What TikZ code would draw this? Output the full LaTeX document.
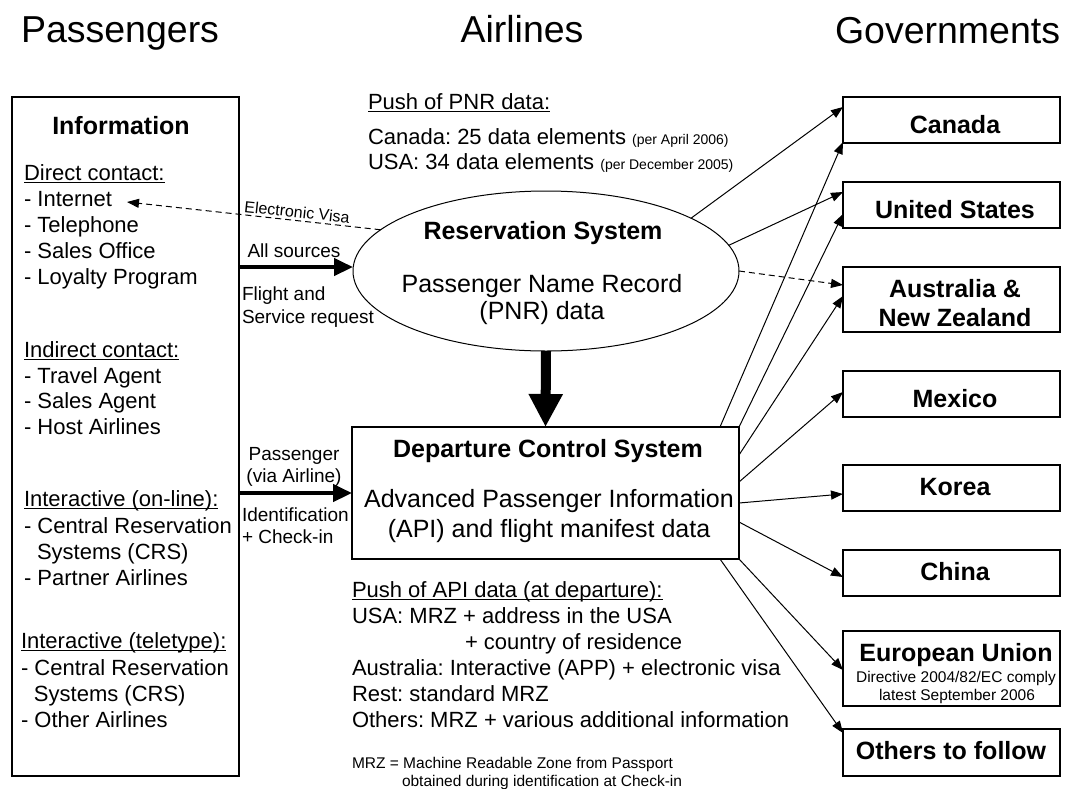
\documentclass[tikz,border=0pt]{standalone}
\usepackage{fontspec}
\setmainfont{Liberation Sans}
\usetikzlibrary{arrows.meta,shapes.geometric,calc}
\newcommand{\myul}[1]{\setbox0\hbox{#1}\rlap{\rule[-2.8pt]{\wd0}{1.3pt}}\box0}
\begin{document}
\frenchspacing
\begin{tikzpicture}[x=1pt,y=-1pt,
  box/.style={draw, line width=1.2pt, inner sep=0pt, outer sep=0pt},
  body/.style={inner sep=0pt, outer sep=0pt, anchor=base west, font=\fontsize{22}{26}\selectfont},
  big/.style={inner sep=0pt, outer sep=0pt, anchor=base, font=\fontsize{25}{29}\selectfont},
  bigb/.style={inner sep=0pt, outer sep=0pt, anchor=base, font=\fontsize{25}{29}\selectfont\bfseries},
  lbl/.style={inner sep=0pt, outer sep=0pt, anchor=base west, font=\fontsize{19}{22}\selectfont},
  lblc/.style={lbl, anchor=base},
  small/.style={inner sep=0pt, outer sep=0pt, anchor=base west, font=\fontsize{15.5}{18}\selectfont},
  smallc/.style={small, anchor=base},
  title/.style={inner sep=0pt, outer sep=0pt, font=\fontsize{37.5}{42}\selectfont},
  thin/.style={line width=1pt, -{Triangle[length=12pt,width=9pt]}},
  dsh/.style={thin, dash pattern=on 6pt off 4pt},
  fat/.style={line width=4.5pt, -{Triangle[length=19pt,width=17pt]}},
]
\useasboundingbox (0,0) rectangle (1077,788);

% titles
\node[title, anchor=base west] (tp) at (21,42) {Passengers};
\node[title, anchor=base] (ta) at (522,42) {Airlines};
\node[title, anchor=base west] (tg) at (835,43) {Governments};

% left information box
\node[box, minimum width=227pt, minimum height=679pt] (info) at (125.5,436.5) {};
\node[bigb] (infot) at (121,134) {Information};
\node[body] (l1) at (24,180) {\myul{Direct contact:}};
\node[body] (internet) at (24,206) {- Internet};
\node[body] (l3) at (24,232) {- Telephone};
\node[body] (l4) at (24,258) {- Sales Office};
\node[body] (l5) at (24,284) {- Loyalty Program};
\node[body] (l6) at (24,357) {\myul{Indirect contact:}};
\node[body] (l7) at (24,383) {- Travel Agent};
\node[body] (l8) at (24,408) {- Sales Agent};
\node[body] (l9) at (24,434) {- Host Airlines};
\node[body] (l10) at (24,506) {\myul{Interactive (on-line):}};
\node[body] (l11) at (24,533) {- Central Reservation};
\node[body] (l12) at (37,559) {Systems (CRS)};
\node[body] (l13) at (24,585) {- Partner Airlines};
\node[body] (l14) at (21,648) {\myul{Interactive (teletype):}};
\node[body] (l15) at (21,675) {- Central Reservation};
\node[body] (l16) at (34,701) {Systems (CRS)};
\node[body] (l17) at (21,727) {- Other Airlines};

% PNR push text
\node[body] (p1) at (368,109) {\myul{Push of PNR data:}};
\node[body] (p2) at (368,144) {Canada: 25 data elements {\fontsize{14}{16}\selectfont (per April 2006)}};
\node[body] (p3) at (368,169) {USA: 34 data elements {\fontsize{14}{16}\selectfont (per December 2005)}};

% reservation system ellipse
\node[draw, ellipse, line width=1pt, minimum width=386pt, minimum height=160pt, inner sep=0pt, outer sep=0pt] (res) at (546,271) {};
\node[bigb] (rest) at (543,239) {Reservation System};
\node[big] (resa) at (542,292) {Passenger Name Record};
\node[big] (resb) at (542,319) {(PNR) data};

% departure control system
\node[box, minimum width=387pt, minimum height=132pt] (dcs) at (545.5,493) {};
\node[bigb] (dcst) at (548,457) {Departure Control System};
\node[big] (dcsa) at (549,507) {Advanced Passenger Information};
\node[big] (dcsb) at (549,537) {(API) and flight manifest data};

% API push text
\node[body] (a1) at (352,597) {\myul{Push of API data (at departure):}};
\node[body] (a2) at (352,623) {USA: MRZ + address in the USA};
\node[body] (a3) at (465,649) {+ country of residence};
\node[body] (a4) at (352,675) {Australia: Interactive (APP) + electronic visa};
\node[body] (a5) at (352,701) {Rest: standard MRZ};
\node[body] (a6) at (352,727) {Others: MRZ + various additional information};
\node[small] (m1) at (352,768) {MRZ = Machine Readable Zone from Passport};
\node[small] (m2) at (402,786) {obtained during identification at Check-in};

% left labels
\node[lblc] (ls1) at (294,257) {All sources};
\node[lbl] (ls2) at (242,300) {Flight and};
\node[lbl] (ls3) at (242,323) {Service request};
\node[lblc] (lp1) at (294,460) {Passenger};
\node[lblc] (lp2) at (294,482) {(via Airline)};
\node[lbl] (lp3) at (242,521) {Identification};
\node[lbl] (lp4) at (242,543) {+ Check-in};
\node[inner sep=0pt, font=\fontsize{16}{18}\selectfont, rotate=-6] (ev) at (297,212) {Electronic Visa};

% government boxes
\node[box, minimum width=217pt, minimum height=46pt] (can) at (951.5,120) {};
\node[bigb] (cant) at (955,133) {Canada};
\node[box, minimum width=217pt, minimum height=46pt] (us) at (951.5,205) {};
\node[bigb] (ust) at (955,218) {United States};
\node[box, minimum width=217pt, minimum height=65pt] (aus) at (951.5,299.5) {};
\node[bigb] (aust1) at (955,297) {Australia \&};
\node[bigb] (aust2) at (955,326) {New Zealand};
\node[box, minimum width=217pt, minimum height=46pt] (mex) at (951.5,394) {};
\node[bigb] (mext) at (955,407) {Mexico};
\node[box, minimum width=217pt, minimum height=46pt] (kor) at (951.5,488) {};
\node[bigb] (kort) at (955,495) {Korea};
\node[box, minimum width=217pt, minimum height=46pt] (chi) at (951.5,573) {};
\node[bigb] (chit) at (955,580) {China};
\node[box, minimum width=217pt, minimum height=75pt] (eu) at (951.5,668.5) {};
\node[bigb] (eut) at (956,661) {European Union};
\node[smallc] (eu2) at (956,682) {Directive 2004/82/EC comply};
\node[smallc] (eu3) at (957,700) {latest September 2006};
\node[box, minimum width=217pt, minimum height=47pt] (oth) at (951.5,752.5) {};
\node[bigb] (otht) at (951,759) {Others to follow};

% connectors
\coordinate (inet) at (127,202);
\draw[dsh] (res.166) -- (inet);
\draw[fat] ($(info.north east)+(0,170)$) -- ($(res.west)+(0,-4)$);
\draw[fat] (info.east |- dcs.west) -- (dcs.west);
\draw[line width=10pt, -{Triangle[length=33pt,width=32pt]}] (res.south) -- (dcs.north);

\draw[thin] (res.20) -- ($(can.north west)+(0,10)$);
\draw[thin] (res.8) -- ($(us.north west)+(0,10)$);
\draw[dsh] (res.east) -- ($(aus.north west)+(0,18)$);

\draw[thin] ($(dcs.north east)+(-19,0)$) -- ($(can.south west)+(0,-1)$);
\draw[thin] (dcs.north east) -- ($(us.west)+(0,9)$);
\draw[thin] ($(dcs.north east)+(0,28)$) -- ($(aus.north west)+(0,29)$);
\draw[thin] ($(dcs.east)+(0,-11)$) -- ($(mex.west)+(0,-2)$);
\draw[thin] ($(dcs.east)+(0,10)$) -- ($(kor.west)+(0,6)$);
\draw[thin] ($(dcs.east)+(0,29)$) -- ($(chi.west)+(0,4)$);
\draw[thin] (dcs.south east) -- ($(eu.west)+(0,1.5)$);
\draw[thin] ($(dcs.south east)+(-19,0)$) -- ($(oth.north west)+(0,4)$);
\end{tikzpicture}
\end{document}
